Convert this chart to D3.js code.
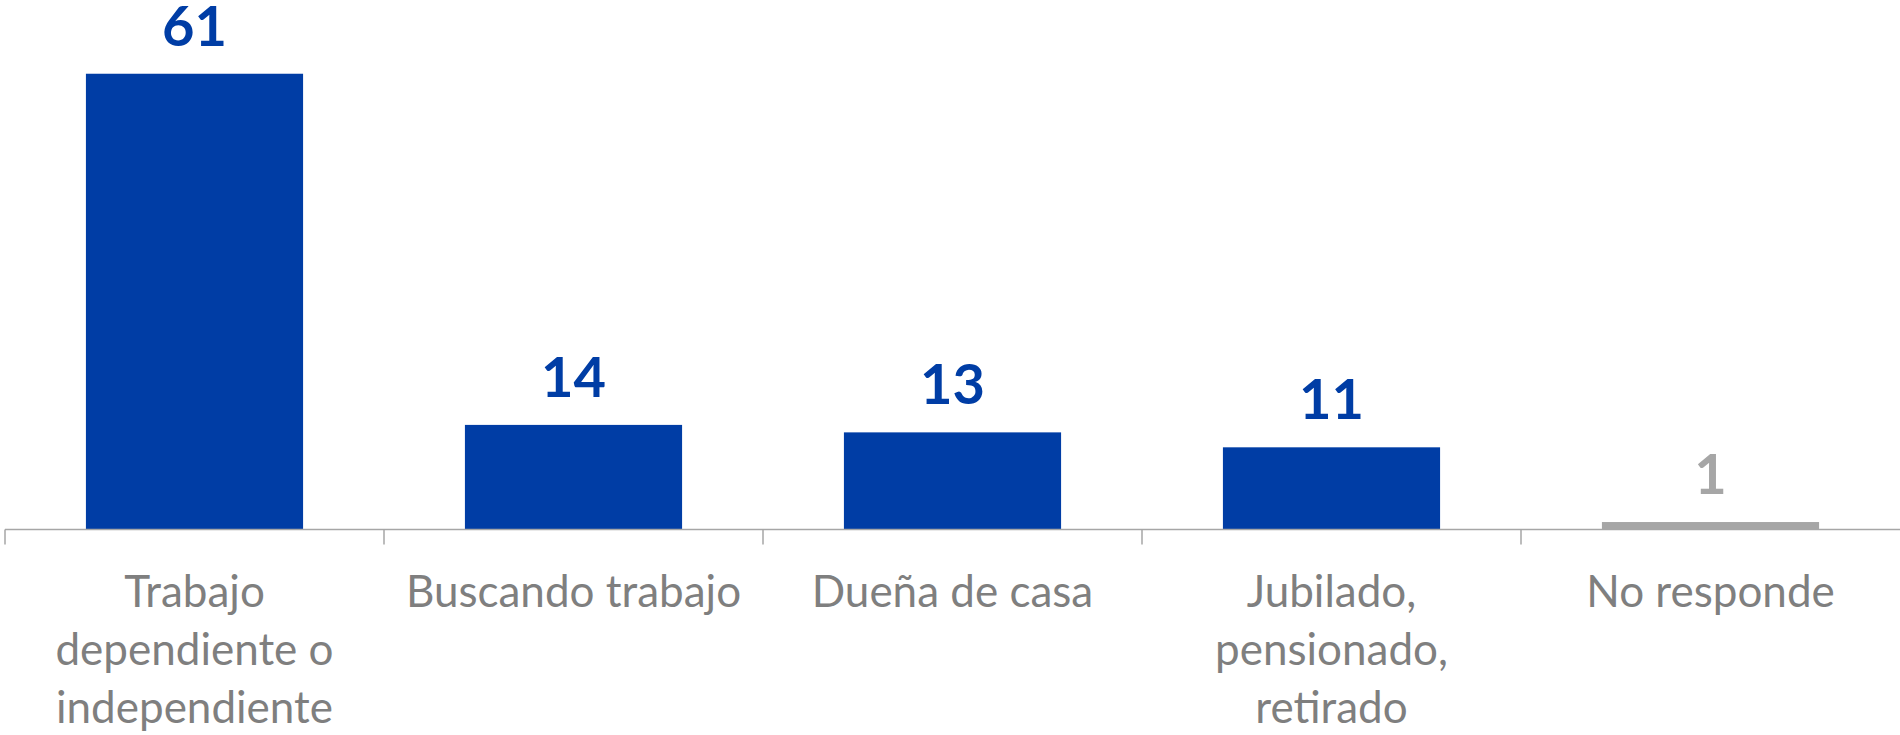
<!DOCTYPE html>
<html><head><meta charset="utf-8">
<script src="https://cdn.jsdelivr.net/npm/d3@7"></script>
<style>html,body{margin:0;padding:0;background:#fff;}svg{display:block;}</style>
</head><body>
<svg id="chart" width="1900" height="735"></svg>
<script>
const categories = ["Trabajo dependiente o independiente","Buscando trabajo","Dueña de casa","Jubilado, pensionado, retirado","No responde"];
const labelLines = [["Trabajo","dependiente o","independiente"],["Buscando trabajo"],["Dueña de casa"],["Jubilado,","pensionado,","retirado"],["No responde"]];
const values = [61,14,13,11,1];
const barColors = ["#003DA5","#003DA5","#003DA5","#003DA5","#A6A6A6"];

const W = 1900, H = 735;
const margin = {left:5, right:0, top:6.5, bottom:205.5};
const svg = d3.select("#chart");
const x = d3.scaleBand().domain(categories).range([margin.left, W - margin.right]).paddingInner(0.427).paddingOuter(0.2135);
const y = d3.scaleLinear().domain([0,70]).range([H - margin.bottom, margin.top]);
const font = "Lato, 'Open Sans', sans-serif";

// bars
svg.selectAll("rect.bar").data(values).join("rect")
  .attr("class","bar")
  .attr("x",(d,i)=>x(categories[i]))
  .attr("y",d=>y(d))
  .attr("width",x.bandwidth())
  .attr("height",d=>y(0)-y(d))
  .attr("fill",(d,i)=>barColors[i]);

// axis
const axisY = y(0);
const step = x.step();
const axis = d3.axisBottom(x).tickSize(0).tickFormat("");
const gAxis = svg.append("g").attr("transform",`translate(0,${axisY})`).call(axis);
gAxis.select(".domain").remove();
svg.append("line").attr("x1",margin.left).attr("x2",W).attr("y1",axisY).attr("y2",axisY)
  .attr("stroke","#A6A6A6").attr("stroke-width",1.5);
// tick marks at category boundaries
const boundaries = categories.map(c => x(c) - x.step()*x.paddingInner()/2 - (x(c)===x(categories[0]) ? 0 : 0));
const bounds = categories.map((c,i)=> margin.left + i*step);
svg.selectAll("line.tick").data(bounds).join("line").attr("class","tick")
  .attr("x1",d=>d).attr("x2",d=>d).attr("y1",axisY).attr("y2",axisY+15)
  .attr("stroke","#A6A6A6").attr("stroke-width",1.5);

// value labels
svg.selectAll("text.val").data(values).join("text").attr("class","val")
  .attr("x",(d,i)=>x(categories[i])+x.bandwidth()/2)
  .attr("y",d=>y(d)-28)
  .attr("text-anchor","middle")
  .attr("font-family",font).attr("font-weight","bold").attr("font-size",56)
  .attr("fill",(d,i)=> i===4 ? "#A6A6A6" : "#003DA5")
  .text(d=>d);

// category labels
const gl = svg.selectAll("text.cat").data(labelLines).join("text").attr("class","cat")
  .attr("x",(d,i)=>x(categories[i])+x.bandwidth()/2)
  .attr("y",axisY+77)
  .attr("text-anchor","middle")
  .attr("font-family",font).attr("font-size",44)
  .attr("fill","#7F7F7F");
gl.selectAll("tspan").data(d=>d).join("tspan")
  .attr("x",function(){return this.parentNode.getAttribute("x");})
  .attr("dy",(d,i)=> i===0 ? 0 : 58)
  .text(d=>d);
</script>
</body></html>
